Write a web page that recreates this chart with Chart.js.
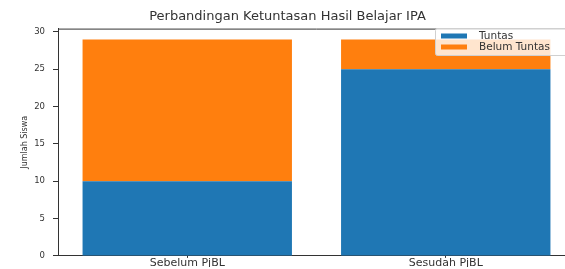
<!DOCTYPE html>
<html><head><meta charset="utf-8">
<script src="https://cdn.jsdelivr.net/npm/chart.js@4"></script>
<style>
html,body{margin:0;padding:0;background:#fff;overflow:hidden;width:565px;height:269px}
#wrap{position:relative;width:575px;height:269px}
</style>
</head><body><div id="wrap"><canvas id="c" width="575" height="269"></canvas></div>
<script>
const categories = ['Sebelum PjBL', 'Sesudah PjBL'];
const tuntas = [10, 25];
const belumTuntas = [19, 4];
const seriesLabels = ['Tuntas', 'Belum Tuntas'];
const yTicks = [0, 5, 10, 15, 20, 25, 30];
const chartTitle = 'Perbandingan Ketuntasan Hasil Belajar IPA';
const yTitle = 'Jumlah Siswa';

const FONT = "'DejaVu Sans', sans-serif";
const TXT = '#333';

const framePlugin = {
  id: 'frame',
  afterDraw(chart) {
    const {ctx, chartArea: a} = chart;
    ctx.save();
    ctx.strokeStyle = TXT;
    ctx.lineWidth = 1;
    ctx.beginPath();
    ctx.moveTo(a.left, a.top + 0.5);
    ctx.lineTo(a.right, a.top + 0.5);
    ctx.lineTo(a.right - 0.5, a.bottom);
    ctx.stroke();
    // legend
    const x0 = 435, y0 = 28, w = 150, h = 27;
    ctx.fillStyle = 'rgba(255,255,255,0.8)';
    ctx.strokeStyle = '#d0d0d0';
    ctx.beginPath();
    ctx.roundRect(x0 + 0.5, y0 + 0.5, w, h, 2);
    ctx.fill();
    ctx.stroke();
    ctx.font = '10.5px ' + FONT;
    ctx.textBaseline = 'middle';
    chart.data.datasets.forEach((ds, i) => {
      const cy = 36 + i * 11;
      ctx.fillStyle = ds.backgroundColor;
      ctx.fillRect(441, cy - 2.5, 26, 5);
      ctx.fillStyle = TXT;
      ctx.fillText(ds.label, 479, cy);
    });
    ctx.restore();
  }
};

new Chart(document.getElementById('c'), {
  type: 'bar',
  data: {
    labels: categories,
    datasets: [
      {label: seriesLabels[0], data: tuntas, backgroundColor: '#1f77b4', borderWidth: 0},
      {label: seriesLabels[1], data: belumTuntas, backgroundColor: '#ff7f0e', borderWidth: 0}
    ]
  },
  options: {
    responsive: false,
    animation: false,
    devicePixelRatio: 1,
    layout: {padding: {left: 0, right: 0, top: 0, bottom: 0}},
    datasets: {bar: {categoryPercentage: 1, barPercentage: 0.81}},
    plugins: {
      legend: {display: false},
      tooltip: {enabled: false},
      title: {
        display: true, text: chartTitle, color: TXT,
        font: {family: FONT, size: 13, weight: 'normal'},
        padding: {top: 9, bottom: 4}
      }
    },
    scales: {
      x: {
        stacked: true,
        offset: true,
        grid: {drawOnChartArea: false, offset: false, tickLength: 2, color: TXT},
        border: {display: true, color: TXT},
        ticks: {color: TXT, font: {family: FONT, size: 11}, padding: -1, maxRotation: 0},
        afterFit(s) { s.height = 11; }
      },
      y: {
        stacked: true,
        min: 0, max: 30.45,
        afterBuildTicks(s) { s.ticks = yTicks.map(v => ({value: v})); },
        grid: {drawOnChartArea: false, tickLength: 5, color: TXT},
        border: {display: true, color: TXT},
        ticks: {color: TXT, font: {family: FONT, size: 8.5}, padding: 8},
        title: {display: true, text: yTitle, color: TXT, font: {family: FONT, size: 8}, padding: {top: 20, bottom: 6}},
        afterFit(s) { s.width = 58; }
      }
    }
  },
  plugins: [framePlugin]
});
</script>
</body></html>
